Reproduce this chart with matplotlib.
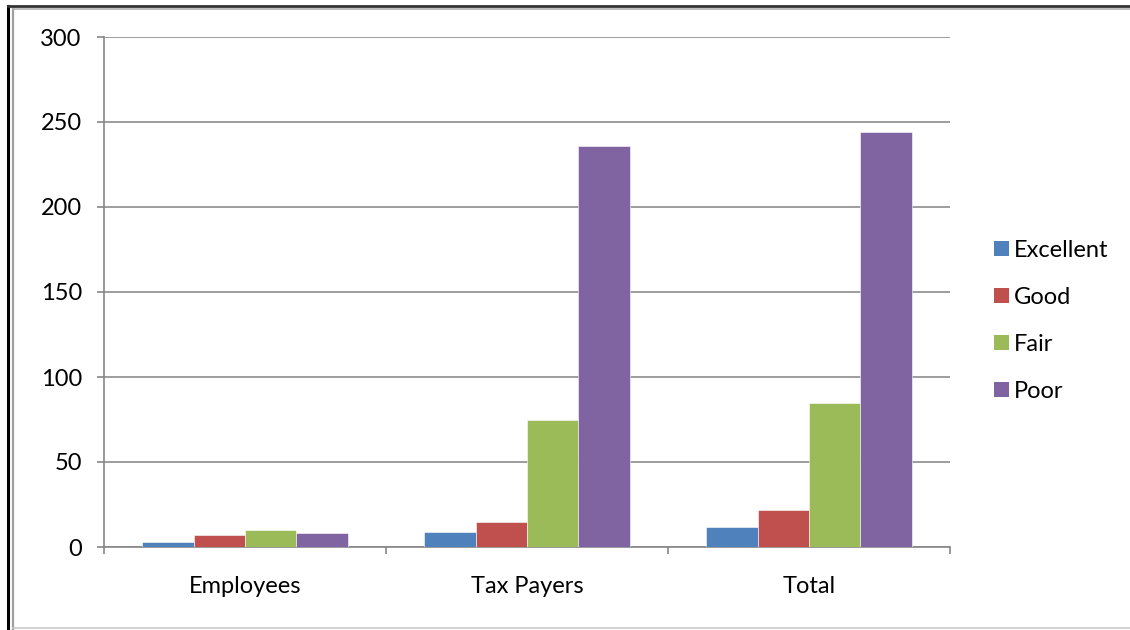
import numpy as np
import matplotlib
matplotlib.use("Agg")
import matplotlib.pyplot as plt
from matplotlib.lines import Line2D
from matplotlib.patches import Patch

categories = ["Employees", "Tax Payers", "Total"]
series = ["Excellent", "Good", "Fair", "Poor"]
excellent = [3, 9, 12]
good = [7, 15, 22]
fair = [10, 75, 85]
poor = [8, 236, 244]
colors = ["#4f81bd", "#c0504d", "#9bbb59", "#8064a2"]

plt.rcParams["font.family"] = ["Lato", "DejaVu Sans"]

W, H = 1130, 630
fig = plt.figure(figsize=(W / 100, H / 100), dpi=100)
ax = fig.add_axes([104 / W, 1 - 547 / H, (950 - 104) / W, (547 - 37) / H])

values = [excellent, good, fair, poor]
x = np.arange(len(categories))
w = 1 / 5.5  # excel gap width 150%
for i, (name, vals) in enumerate(zip(series, values)):
    ax.bar(x - 1.5 * w + i * w, vals, width=w, color=colors[i], label=name,
           zorder=3, edgecolor="white", linewidth=0.4)

ax.set_xlim(-0.5, 2.5)
ax.set_ylim(0, 300)
ax.set_yticks(range(0, 301, 50))
ax.yaxis.grid(True, color="#8c8c8c", linewidth=1.2, zorder=0)
ax.set_xticks([-0.5, 0.5, 1.5, 2.5])
ax.set_xticklabels([])
ax.set_xticks(x, minor=True)
ax.set_xticklabels(categories, minor=True)
ax.tick_params(axis="x", which="minor", length=0, pad=21, labelsize=17)
ax.tick_params(axis="x", which="major", length=5, color="#868686", width=1.2)
ax.tick_params(axis="y", length=5, color="#868686", width=1.2, pad=11, labelsize=17)
for s in ["top", "right"]:
    ax.spines[s].set_visible(False)
for s in ["left", "bottom"]:
    ax.spines[s].set_color("#868686")
    ax.spines[s].set_linewidth(1.2)

handles = [Patch(facecolor=c, label=n) for c, n in zip(colors, series)]
leg = fig.legend(handles=handles, loc="upper left", bbox_to_anchor=(982 / W, 1 - 228 / H),
                 frameon=False, fontsize=17, handlelength=0.64, handleheight=0.64,
                 handletextpad=0.22, labelspacing=1.1, borderpad=0)

# outer frame
fig.add_artist(Line2D([8 / W, 8 / W], [0, 1 - 6 / H], color="black", linewidth=2.2))
fig.add_artist(Line2D([13 / W, 13 / W], [0, 1 - 9 / H], color="#a0a0a0", linewidth=1.6))
fig.add_artist(Line2D([8 / W, 1], [1 - 6 / H, 1 - 6 / H], color="#333333", linewidth=2.0))
fig.add_artist(Line2D([13 / W, 1], [1 - 9 / H, 1 - 9 / H], color="#b0b0b0", linewidth=1.2))
fig.add_artist(Line2D([13 / W, 1], [1 - 628 / H, 1 - 628 / H], color="#c8c8c8", linewidth=1.2))

fig.savefig("out.png", dpi=100)
